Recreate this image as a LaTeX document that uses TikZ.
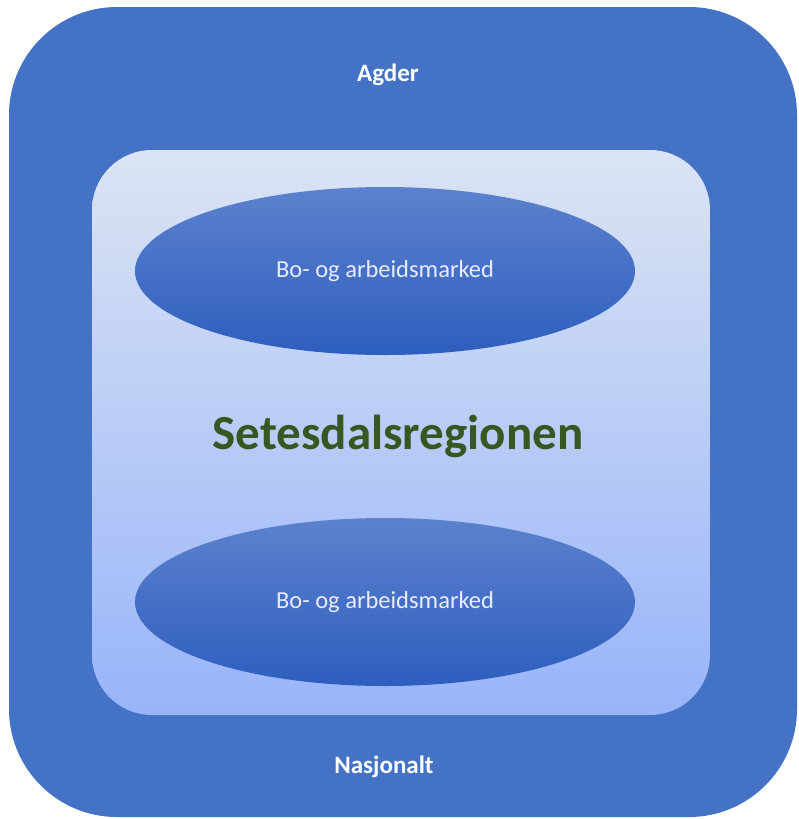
\documentclass[tikz,border=0pt]{standalone}
\usepackage{fontspec}
\setmainfont{Carlito}
\usetikzlibrary{shapes.geometric}
\definecolor{outerblue}{RGB}{68,114,196}
\definecolor{innertop}{RGB}{219,228,243}
\definecolor{innerbot}{RGB}{152,180,250}
\definecolor{elltop}{RGB}{92,130,206}
\definecolor{ellbot}{RGB}{46,94,190}
\definecolor{darkgreen}{RGB}{56,87,35}
\tikzset{
  market/.style={ellipse,minimum width=500pt,minimum height=168pt,inner sep=0pt,
    top color=elltop,bottom color=ellbot,draw=none,text=white!92!blue,
    font=\fontsize{24.5}{29}\selectfont},
  level/.style={text=white,font=\bfseries\fontsize{25}{30}\selectfont}
}
\begin{document}
\begin{tikzpicture}[x=1pt,y=-1pt]
\useasboundingbox (0,0) rectangle (798,819);

% outer box
\fill [outerblue,rounded corners=108pt] (9,7) rectangle (797,817);
\node [level] (agder) at (388,75) {Agder};
\node [level] (nasjonalt) at (384,767) {Nasjonalt};

% inner box
\shade [top color=innertop,bottom color=innerbot,rounded corners=60pt] (92,150) rectangle (710,715);

% markets
\node [market] (bo1) at (385,271) {Bo- og arbeidsmarked};
\node [market] (bo2) at (385,602) {Bo- og arbeidsmarked};

% region
\node [text=darkgreen,font=\bfseries\fontsize{49}{58}\selectfont] (region) at (398,436) {Setesdalsregionen};
\end{tikzpicture}
\end{document}
